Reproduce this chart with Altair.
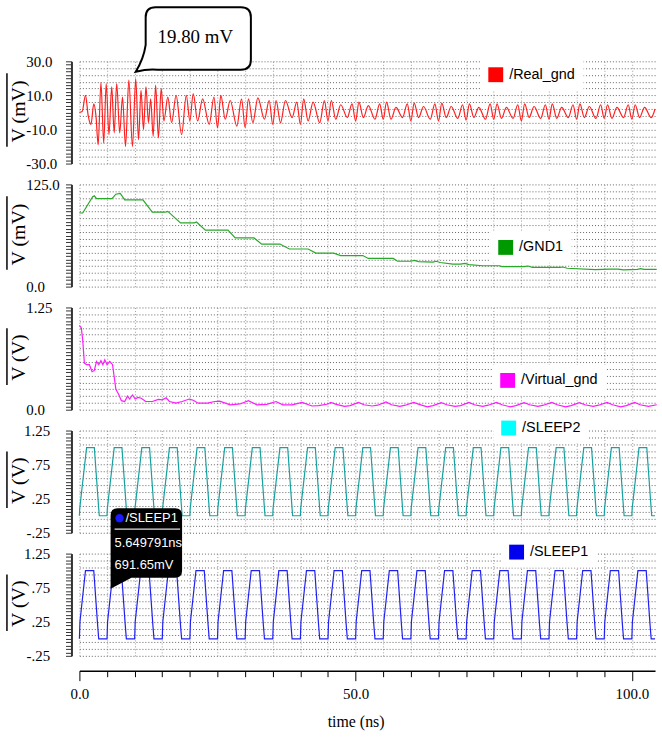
import altair as alt
import pandas as pd

# ---------------- values ----------------
# /Real_gnd (mV): successive turning points of the ringing trace
rg_t = [0.0, 0.5, 1.1, 1.6, 2.1, 2.6, 3.0, 3.4, 3.9, 4.4,
        4.85, 5.35, 5.85, 6.3, 6.75, 7.3, 7.8, 8.35, 8.95, 9.6,
        10.2, 10.7, 11.15, 11.6, 12.05, 12.5, 12.9, 13.35, 13.8, 14.3,
        14.8,
        15.3, 16.0, 16.7, 17.5, 18.5, 19.35,
        20.0, 20.6, 21.4, 22.3, 23.5, 24.35,
        25.0, 25.6, 26.4, 27.3, 28.5, 29.35,
        30.0, 30.6, 31.4, 32.3, 33.5, 34.35,
        35.0, 35.6, 36.4, 37.3, 38.5, 39.35,
        40.0, 40.6, 41.4, 42.3, 43.5, 44.35,
        45.0, 45.6, 46.4, 47.3, 48.5, 49.35,
        50.0, 50.6, 51.4, 52.3, 53.5, 54.35,
        55.0, 55.6, 56.4, 57.3, 58.5, 59.35,
        60.0, 60.6, 61.4, 62.3, 63.5, 64.35,
        65.0, 65.6, 66.4, 67.3, 68.5, 69.35,
        70.0, 70.6, 71.4, 72.3, 73.5, 74.35,
        75.0, 75.6, 76.4, 77.3, 78.5, 79.35,
        80.0, 80.6, 81.4, 82.3, 83.5, 84.35,
        85.0, 85.6, 86.4, 87.3, 88.5, 89.35,
        90.0, 90.6, 91.4, 92.3, 93.5, 94.35,
        95.0, 95.6, 96.4, 97.3, 98.5, 99.35,
        100.0, 100.6, 101.4, 102.3, 103.5, 104.2]
rg_v = [0.0, 0.5, 10.0, -2.0, -7.0, 5.0, -2.0, -19.0, 17.5, -18.0,
        17.0, -13.0, 15.0, -12.0, 17.0, -12.0, 9.0, -20.0, 19.0, -20.0,
        19.8, -16.0, 13.0, -10.0, 15.0, -6.0, 8.0, -14.0, 16.0, -15.0,
        14.0,
        -5.0, 9.0, -6.0, 10.0, -13.0, 10.0,
        -5.0, 11.0, -5.0, 8.0, -7.0, 9.0,
        -9.0, 10.0, -4.0, 7.0, -8.0, 8.0,
        -9.0, 8.0, -6.0, 8.5, -4.0, 7.0,
        -7.0, 7.0, -6.0, 7.0, -3.0, 6.0,
        -7.0, 8.0, -5.0, 6.0, -6.0, 7.0,
        -5.0, 7.0, -4.0, 4.5, -3.0, 5.0,
        -5.0, 6.0, -3.0, 4.0, -4.0, 5.0,
        -4.0, 6.0, -4.0, 3.0, -3.0, 5.0,
        -5.0, 5.5, -3.0, 3.5, -4.0, 5.0,
        -5.0, 5.5, -3.0, 3.5, -3.5, 4.5,
        -4.5, 5.0, -3.0, 3.0, -4.0, 5.0,
        -4.0, 5.0, -3.5, 3.0, -3.5, 4.5,
        -5.0, 5.0, -3.0, 3.5, -3.5, 4.5,
        -4.0, 5.0, -3.5, 3.0, -3.0, 4.5,
        -4.0, 5.0, -3.0, 3.5, -3.5, 4.5,
        -3.5, 4.5, -3.5, 3.0, -3.0, 4.5,
        -4.0, 4.5, -3.0, 3.0, -3.0, 2.0]

# /GND1 (mV): stair-like decay
gnd1_t = [0.0, 0.6, 2.4, 2.7, 3.1, 5.9, 6.6, 7.4, 8.2, 11.5,
          13.2, 15.5, 16.0, 16.5, 18.3, 20.8, 21.2, 22.8, 26.9, 28.2,
          31.6, 33.0, 36.3, 38.0, 41.4, 42.8, 46.0, 47.3, 51.3, 52.3,
          56.8, 57.6, 60.0, 60.6, 61.4, 64.0, 64.6, 65.3, 67.6, 69.0,
          69.8, 70.5, 73.0, 76.0, 76.5, 80.5, 81.2, 82.0, 87.0, 87.5,
          88.3, 93.4, 96.0, 97.5, 98.5, 101.0, 101.6, 102.2, 104.5]
gnd1_v = [90, 90, 110, 111, 107.5, 107.5, 113, 114, 106, 106,
          91, 91, 92, 89, 78, 78, 79, 69, 69, 59.5,
          59.5, 52, 52, 46, 46, 41, 41, 38, 38, 34.5,
          34.5, 31, 31, 32, 30.5, 30, 31, 29.5, 27.5, 27.5,
          28.5, 27, 25.5, 25.5, 24.5, 24.5, 25.2, 23.5, 23.5, 24,
          22.5, 20.7, 21.5, 21.5, 20.5, 21, 22, 21, 21]

# /Virtual_gnd (V)
vg_t = [0.0, 0.35, 0.6, 0.9, 1.3, 1.8, 2.3, 2.7, 3.1, 3.5,
        3.9, 4.25, 4.6, 5.0, 5.5, 6.0, 6.3, 6.6, 7.1, 7.6,
        8.2, 8.7, 9.1, 9.6, 10.1, 10.6, 11.2, 12.0, 13.2, 14.3,
        15.0, 15.7, 16.3, 17.5, 18.6, 19.9, 20.6, 21.5, 23.2, 24.5,
        25.4, 27.3, 29.1, 30.6, 32.1, 33.9, 35.6, 36.8, 38.5, 40.3,
        42.1, 43.3, 45.0, 45.5, 46.5, 48.0, 49.0, 50.5, 51.5, 53.0,
        54.0, 55.5, 56.5, 58.0, 59.0, 60.5, 61.5, 63.0, 64.0, 65.5,
        66.5, 68.0, 69.0, 70.5, 71.5, 73.0, 74.0, 75.5, 76.5, 78.0,
        79.0, 80.5, 81.5, 83.0, 84.0, 85.5, 86.5, 88.0, 89.0, 90.5,
        91.5, 93.0, 94.0, 95.5, 96.5, 98.0, 99.0, 100.5, 101.5, 103.0,
        104.5]
vg_v = [1.03, 1.0, 0.85, 0.57, 0.55, 0.55, 0.465, 0.48, 0.59, 0.55,
        0.6, 0.55, 0.61, 0.55, 0.59, 0.55, 0.4, 0.25, 0.19, 0.11,
        0.1, 0.165, 0.13, 0.18, 0.13, 0.15, 0.14, 0.1, 0.1, 0.125,
        0.12, 0.145, 0.1, 0.08, 0.1, 0.13, 0.115, 0.08, 0.08, 0.1,
        0.105, 0.06, 0.07, 0.11, 0.06, 0.065, 0.1, 0.06, 0.06, 0.09,
        0.045, 0.05, 0.07, 0.09, 0.065, 0.04, 0.05, 0.09, 0.06, 0.045,
        0.055, 0.095, 0.06, 0.04, 0.055, 0.09, 0.065, 0.035, 0.05, 0.085,
        0.06, 0.04, 0.05, 0.09, 0.06, 0.04, 0.055, 0.09, 0.06, 0.035,
        0.05, 0.085, 0.06, 0.04, 0.055, 0.09, 0.06, 0.035, 0.05, 0.085,
        0.06, 0.04, 0.055, 0.09, 0.06, 0.035, 0.05, 0.09, 0.06, 0.04,
        0.06]

# /SLEEP1, /SLEEP2 (V): rising-edge times and the shape of one pulse
sleep_edges = [0.0, 5.0, 10.0, 15.0, 20.0, 25.0, 30.0, 35.0, 40.0, 45.0, 50.0,
               55.0, 60.0, 65.0, 70.0, 75.0, 80.0, 85.0, 90.0, 95.0, 100.0]
sleep1_dt = [0.0, 0.1, 1.1, 2.6, 3.3, 3.5]
sleep1_dv = [0.0, 0.25, 1.0, 1.0, 0.2, 0.0]
sleep2_dt = [0.0, 0.05, 1.3, 2.7, 3.5, 3.6]
sleep2_dv = [0.0, 0.1, 1.0, 1.0, 0.1, 0.0]

# annotations
peak_t, peak_v = [10.2], [19.80]          # callout on /Real_gnd (mV)
tip_t, tip_v = [5.649791], [0.69165]      # marker readout on /SLEEP1 (V)

# axis tick labels
x_ticks = [0, 5, 10, 15, 20, 25, 30, 35, 40, 45, 50, 55, 60, 65, 70, 75, 80, 85, 90, 95, 100]
x_label_vals = [0, 50, 100]
x_label_txt = ["0.0", "50.0", "100.0"]
rg_lab = ([30, 10, -10, -30], ["30.0", "10.0", "-10.0", "-30.0"])
gnd_lab = ([125, 0], ["125.0", "0.0"])
vg_lab = ([1.25, 0], ["1.25", "0.0"])
sl_lab = ([1.25, 0.75, 0.25, -0.25], ["1.25", ".75", ".25", "-.25"])

# ---------------- styling ----------------
SERIF = "Liberation Serif"
SANS = "Liberation Sans Narrow, Liberation Sans, Arial"
W, H = 580, 103
X_DOMAIN = [0.0, 104.2]


def pulses(edges, dts, dvs, tmax):
    t, v = [], []
    for e in edges:
        for d, val in zip(dts, dvs):
            if e + d <= tmax:
                t.append(e + d)
                v.append(val)
    t.append(tmax)
    v.append(v[-1])
    return t, v


s1_t, s1_v = pulses(sleep_edges, sleep1_dt, sleep1_dv, X_DOMAIN[1])
s2_t, s2_v = pulses(sleep_edges, sleep2_dt, sleep2_dv, X_DOMAIN[1])


def label_expr(vals, txts):
    e = "''"
    for val, txt in reversed(list(zip(vals, txts))):
        e = f"abs(datum.value - ({val})) < 1e-6 ? '{txt}' : {e}"
    return e


panels = [
    dict(name="/Real_gnd", t=rg_t, v=rg_v, dom=[-30, 30], lab=rg_lab, title="V (mV)",
         line="#ff1f1f", key="#ff0000", lx=404, ly=-2, interp="monotone", bar=(12, 86),
         lalign="left", lpad=40),
    dict(name="/GND1", t=gnd1_t, v=gnd1_v, dom=[0, 125], lab=gnd_lab, title="V (mV)",
         line="#2aa82a", key="#009900", lx=414, ly=48, interp="linear", bar=(12, 86),
         lalign="left", lpad=40),
    dict(name="/Virtual_gnd", t=vg_t, v=vg_v, dom=[0, 1.25], lab=vg_lab, title="V (V)",
         line="#ff1aff", key="#ff00ff", lx=416, ly=58, interp="linear", bar=(21, 78),
         lalign="left", lpad=40),
    dict(name="/SLEEP2", t=s2_t, v=s2_v, dom=[-0.25, 1.25], lab=sl_lab, title="V (V)",
         line="#16a0a0", key="#00ffff", lx=417, ly=-18, interp="linear", bar=(21, 78),
         lalign="right", lpad=16),
    dict(name="/SLEEP1", t=s1_t, v=s1_v, dom=[-0.25, 1.25], lab=sl_lab, title="V (V)",
         line="#2020f0", key="#0000ee", lx=425, ly=-17, interp="linear", bar=(21, 78),
         lalign="right", lpad=16),
]


def make_panel(p, last):
    lo, hi = p["dom"]
    step = (hi - lo) / 30.0
    ruler = [round(lo + i * step, 6) for i in range(31)]
    g2 = 2 * step
    grid_test = (f"abs((datum.value - ({lo})) / {g2} - round((datum.value - ({lo})) / {g2})) < 0.01")
    xs = alt.Scale(domain=X_DOMAIN, nice=False, zero=False)
    ys = alt.Scale(domain=[lo, hi], nice=False, zero=False)

    yaxis = alt.Axis(
        values=ruler, orient="left", offset=8, title=p["title"],
        labelExpr=label_expr(*p["lab"]), labelOverlap=False, labelFont=SERIF, labelFontSize=15,
        labelColor="black", labelAlign=p["lalign"], labelBaseline="middle", labelPadding=p["lpad"],
        tickSize=6, tickColor="#333333", tickWidth=1, domainColor="#333333", domainWidth=2,
        grid=True, gridColor="#666666", gridDash=[1, 2], gridWidth=1,
        gridOpacity={"condition": {"test": grid_test, "value": 1}, "value": 0},
        titleFont=SERIF, titleFontSize=20, titleFontWeight="normal", titleColor="black",
        titleAngle=270, titleX=-47, titleY=50, titleAlign="center", titleBaseline="alphabetic",
    )
    if last:
        xaxis = alt.Axis(
            values=x_ticks, offset=15, title="time (ns)",
            labelExpr=label_expr(x_label_vals, x_label_txt), labelOverlap=False, labelFlush=False,
            labelFont=SERIF, labelFontSize=15, labelColor="black", labelPadding=6,
            tickColor="black", tickWidth=1,
            tickSize={"condition": {"test": "datum.value % 50 === 0", "value": 10}, "value": 6},
            domainColor="black", domainWidth=1.5,
            grid=True, gridColor="#9a9a9a", gridDash=[1, 2], gridWidth=1,
            titleFont=SERIF, titleFontSize=16, titleFontWeight="normal", titleColor="black",
            titleX=278.3, titleY=51, titleAlign="center", titleBaseline="middle",
        )
    else:
        xaxis = alt.Axis(values=x_ticks, labels=False, ticks=False, domain=False, title="",
                         grid=True, gridColor="#9a9a9a", gridDash=[1, 2], gridWidth=1)

    # same encodings (and axis definitions) in every layer so the shared axes merge cleanly
    xenc = alt.X("t:Q", scale=xs, axis=xaxis)
    yenc = alt.Y("v:Q", scale=ys, axis=yaxis)

    df = pd.DataFrame({"t": p["t"], "v": p["v"]})
    line = alt.Chart(df).mark_line(color=p["line"], strokeWidth=1.2, interpolate=p["interp"]).encode(
        x=xenc, y=yenc)

    leg_df = pd.DataFrame({"name": [p["name"]], "t": [None], "v": [None]})
    leg = alt.Chart(leg_df).mark_point(shape="square", filled=True, opacity=1).encode(
        x=xenc, y=yenc,
        color=alt.Color("name:N", scale=alt.Scale(domain=[p["name"]], range=[p["key"]]),
                        legend=alt.Legend(orient="none", legendX=p["lx"], legendY=p["ly"], title=None,
                                          symbolType="square", symbolSize=225, symbolStrokeWidth=0,
                                          fillColor="white", padding=8, labelFont=SANS, labelFontSize=14.5,
                                          labelColor="black", labelOffset=6)),
    )

    bar = alt.Chart(pd.DataFrame({"k": [0]})).mark_rule(color="black", strokeWidth=1.5).encode(
        x=alt.value(-73), y=alt.value(p["bar"][0]), y2=alt.value(p["bar"][1]))

    layers = [line, leg, bar]

    if p["name"] == "/Real_gnd":
        cdf = pd.DataFrame({"t": peak_t, "v": peak_v, "label": [f"{v:.2f} mV" for v in peak_v]})
        bubble = ("M0,-7 Q8,-20 10,-34 L10,-62 Q10,-72 20,-72 L106,-72 Q116,-72 116,-62 "
                  "L116,-19 Q116,-9 106,-9 L22,-9 Q12,-10 0,-7 Z")
        layers.append(alt.Chart(cdf).mark_point(shape=bubble, size=4, filled=True, color="white",
                                                stroke="black", strokeWidth=2, opacity=1).encode(
            x=xenc, y=yenc))
        layers.append(alt.Chart(cdf).mark_text(dx=60, dy=-42, font=SERIF, fontSize=19, color="black",
                                               align="center", baseline="middle").encode(
            x=xenc, y=yenc, text="label:N"))

    if p["name"] == "/SLEEP1":
        tdf = pd.DataFrame({"t": tip_t, "v": tip_v, "name": [p["name"]],
                            "tl": [f"{t:.6f}ns" for t in tip_t],
                            "vl": [f"{v * 1000:.2f}mV" for v in tip_v]})
        box = "M0,-3 L0,-77 Q0,-84 7,-84 L65,-84 Q72,-84 72,-77 L72,-21 Q72,-14 65,-14 L21,-14 Z"
        layers.append(alt.Chart(tdf).mark_point(shape=box, size=4, filled=True, color="black",
                                                opacity=1, strokeWidth=0).encode(x=xenc, y=yenc))
        layers.append(alt.Chart(tdf).mark_point(shape="M4,-63 L70,-63", size=4, filled=False,
                                                color="#e0e0e0", strokeWidth=1.5, opacity=1).encode(
            x=xenc, y=yenc))
        layers.append(alt.Chart(tdf).mark_point(shape="circle", size=70, filled=True, color="#1a1aff",
                                                opacity=1, xOffset=9, yOffset=-74).encode(x=xenc, y=yenc))
        for field, dx, dy in (("name", 15, -74), ("tl", 4, -49), ("vl", 4, -27)):
            layers.append(alt.Chart(tdf).mark_text(dx=dx, dy=dy, font=SANS, fontSize=13, color="white",
                                                   align="left", baseline="middle").encode(
                x=xenc, y=yenc, text=f"{field}:N"))

    return alt.layer(*layers).properties(width=W, height=H)


charts = [make_panel(p, i == len(panels) - 1) for i, p in enumerate(panels)]

chart = (
    alt.vconcat(*charts, spacing=21, bounds="flush")
    .resolve_scale(color="independent")
    .resolve_legend(color="independent")
    .properties(padding={"left": 6, "top": 0, "right": 2, "bottom": 6}, background="white")
    .configure_view(stroke=None)
)

chart.save("out.html", embed_options={"renderer": "svg", "actions": False})
